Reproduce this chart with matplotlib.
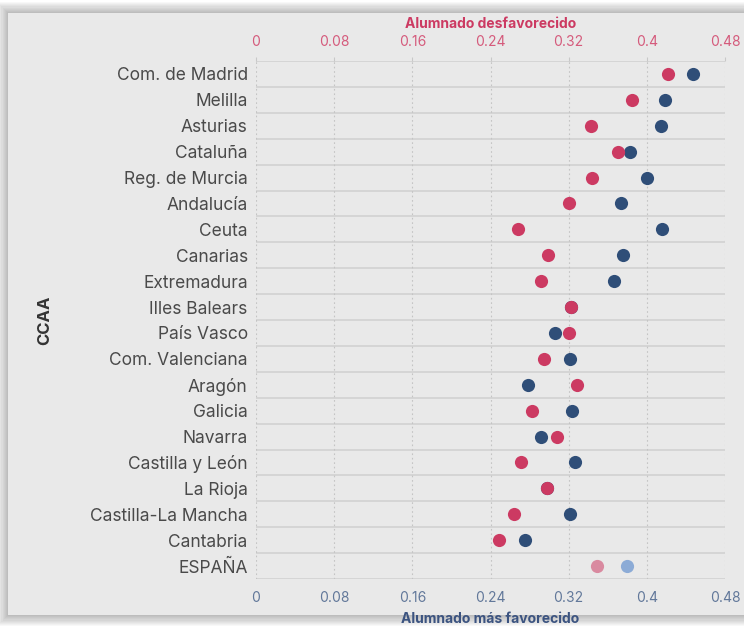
import matplotlib
matplotlib.use("Agg")
import matplotlib.pyplot as plt
from matplotlib.patches import Rectangle

plt.rcParams["font.family"] = ["Inter", "DejaVu Sans"]

# data (top row first)
regions = ["Com. de Madrid", "Melilla", "Asturias", "Cataluña", "Reg. de Murcia",
           "Andalucía", "Ceuta", "Canarias", "Extremadura", "Illes Balears",
           "País Vasco", "Com. Valenciana", "Aragón", "Galicia", "Navarra",
           "Castilla y León", "La Rioja", "Castilla-La Mancha", "Cantabria", "ESPAÑA"]
desfavorecido = [0.422, 0.385, 0.343, 0.370, 0.344, 0.320, 0.268, 0.299, 0.292, 0.322,
                 0.320, 0.295, 0.329, 0.282, 0.308, 0.271, 0.298, 0.264, 0.249, 0.349]
favorecido = [0.447, 0.419, 0.414, 0.383, 0.400, 0.374, 0.416, 0.376, 0.366, 0.322,
              0.306, 0.321, 0.278, 0.323, 0.292, 0.326, 0.298, 0.321, 0.275, 0.380]
ticks = [0, 0.08, 0.16, 0.24, 0.32, 0.4, 0.48]
tick_labels = ["0", "0.08", "0.16", "0.24", "0.32", "0.4", "0.48"]

PINK = "#cc3a62"
BLUE = "#2f4e78"
PINK_LIGHT = "#d98aa0"
BLUE_LIGHT = "#8cabd6"
BG = "#e9e9e9"

fig = plt.figure(figsize=(7.44, 6.29), dpi=100)
fig.patch.set_facecolor("white")

# card with soft shadow
x0, y0, w, h = 8 / 744, 1 - 615 / 629, 1.0, (615 - 13) / 629
for i in range(10, 0, -1):
    d = i * 1.1
    fig.patches.append(Rectangle((x0 - d / 744, y0 - d / 629), w + 2 * d / 744, h + 2 * d / 629,
                                 transform=fig.transFigure, facecolor="#000000",
                                 alpha=0.028, edgecolor="none", zorder=-3))
fig.patches.append(Rectangle((x0, y0), w, h, transform=fig.transFigure,
                             facecolor=BG, edgecolor="none", zorder=-2))

ax = fig.add_axes([256 / 744, 1 - 579 / 629, (725 - 256) / 744, (579 - 61) / 629])
ax.set_facecolor(BG)

n = len(regions)
ypos = list(range(n))
main = n - 1

ax.scatter(favorecido[:main], ypos[:main], s=90, color=BLUE, zorder=3, linewidths=0)
ax.scatter(desfavorecido[:main], ypos[:main], s=90, color=PINK, zorder=4, linewidths=0)
ax.scatter(favorecido[main:], ypos[main:], s=90, color=BLUE_LIGHT, zorder=3, linewidths=0)
ax.scatter(desfavorecido[main:], ypos[main:], s=90, color=PINK_LIGHT, zorder=4, linewidths=0)

for k in range(n + 1):
    ax.axhline(k - 0.5, color="#d3d3d3", lw=1.3, zorder=1)
for t in ticks:
    ax.axvline(t, color="#c4c4c4", lw=0.8, ls=(0, (1.5, 2.5)), zorder=1)

ax.set_xlim(0, 0.48)
ax.set_ylim(n - 0.5, -0.5)
ax.set_yticks(ypos)
ax.set_yticklabels(regions, fontsize=12.5, color="#4a4a4a")
ax.tick_params(axis="y", length=0, pad=6)
ax.set_xticks(ticks)
ax.set_xticklabels(tick_labels, fontsize=10, color="#62789a")
ax.tick_params(axis="x", length=0, pad=9)
ax.set_xlabel("Alumnado más favorecido", fontsize=10, fontweight="bold",
              color="#3b5380", labelpad=5)
ax.set_ylabel("CCAA", fontsize=12, fontweight="bold", color="#333333", labelpad=27)
for s in ax.spines.values():
    s.set_visible(False)

ax2 = ax.twiny()
ax2.set_xlim(0, 0.48)
ax2.set_xticks(ticks)
ax2.set_xticklabels(tick_labels, fontsize=10, color="#d55b7c")
ax2.tick_params(axis="x", length=3, color="#c8c8c8", pad=6)
ax2.set_xlabel("Alumnado desfavorecido", fontsize=10, fontweight="bold",
               color=PINK, labelpad=5)
for s in ax2.spines.values():
    s.set_visible(False)

plt.savefig("out.png", dpi=100, facecolor=fig.get_facecolor())
plt.close()
